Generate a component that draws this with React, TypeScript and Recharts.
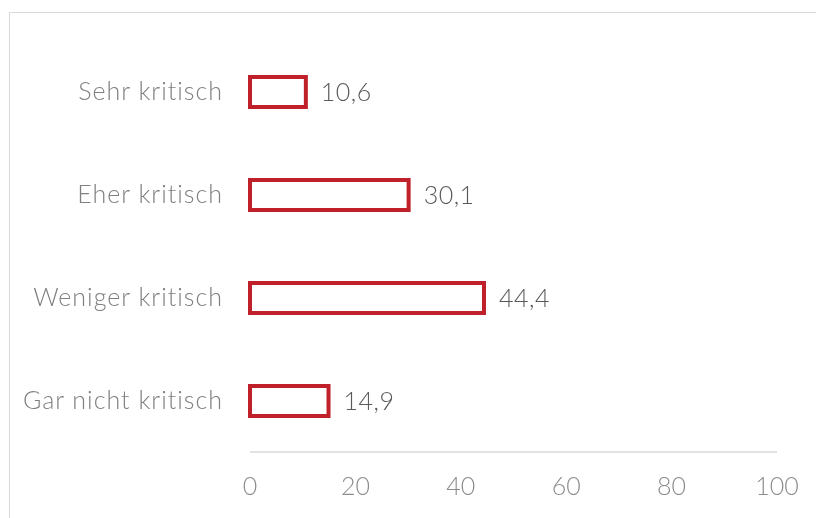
import { BarChart, Bar, XAxis, YAxis, LabelList } from "recharts";

const categories = ["Sehr kritisch", "Eher kritisch", "Weniger kritisch", "Gar nicht kritisch"];
const shares = [10.6, 30.1, 44.4, 14.9];
const xTicks = [0, 20, 40, 60, 80, 100];

const chartData = categories.map((name, i) => ({ name, value: shares[i] }));

const FONT = "Lato, 'Open Sans', sans-serif";

export default function App() {
    return (
        <div style={{ position: "relative", width: 808, height: 510, fontFamily: FONT }}>
            {/* light frame, only top and left are visible */}
            <div
                style={{
                    position: "fixed",
                    left: 9,
                    top: 12,
                    right: -10,
                    bottom: -10,
                    borderTop: "1.5px solid #d9d9d9",
                    borderLeft: "1.5px solid #d9d9d9",
                }}
            />
            <div style={{ position: "absolute", left: 0, top: 0 }}>
                <BarChart
                    width={808}
                    height={510}
                    data={chartData}
                    layout="vertical"
                    margin={{ top: 32, right: 39, left: 0, bottom: 0 }}
                >
                    <XAxis
                        type="number"
                        domain={[0, 100]}
                        ticks={xTicks}
                        height={66}
                        stroke="#d9d9d9"
                        strokeWidth={1.5}
                        tickLine={false}
                        tickSize={0}
                        tickMargin={25}
                        tick={{ fill: "#8c8c8c", fontSize: 25, fontWeight: 300, fontFamily: FONT }}
                    />
                    <YAxis
                        type="category"
                        dataKey="name"
                        width={242}
                        axisLine={false}
                        tickLine={false}
                        tickSize={0}
                        tickMargin={27}
                        tick={{ fill: "#7f7f7f", fontSize: 25, fontWeight: 300, fontFamily: FONT, letterSpacing: 1 }}
                    />
                    <Bar
                        dataKey="value"
                        fill="#ffffff"
                        stroke="#c0202a"
                        strokeWidth={4}
                        barSize={30}
                        isAnimationActive={false}
                    >
                        <LabelList
                            dataKey="value"
                            position="right"
                            offset={15}
                            formatter={(v: any) => String(v).replace(".", ",")}
                            style={{ fill: "#595959", fontSize: 25, fontWeight: 300, fontFamily: FONT, letterSpacing: 0.5 }}
                        />
                    </Bar>
                </BarChart>
            </div>
        </div>
    );
}
